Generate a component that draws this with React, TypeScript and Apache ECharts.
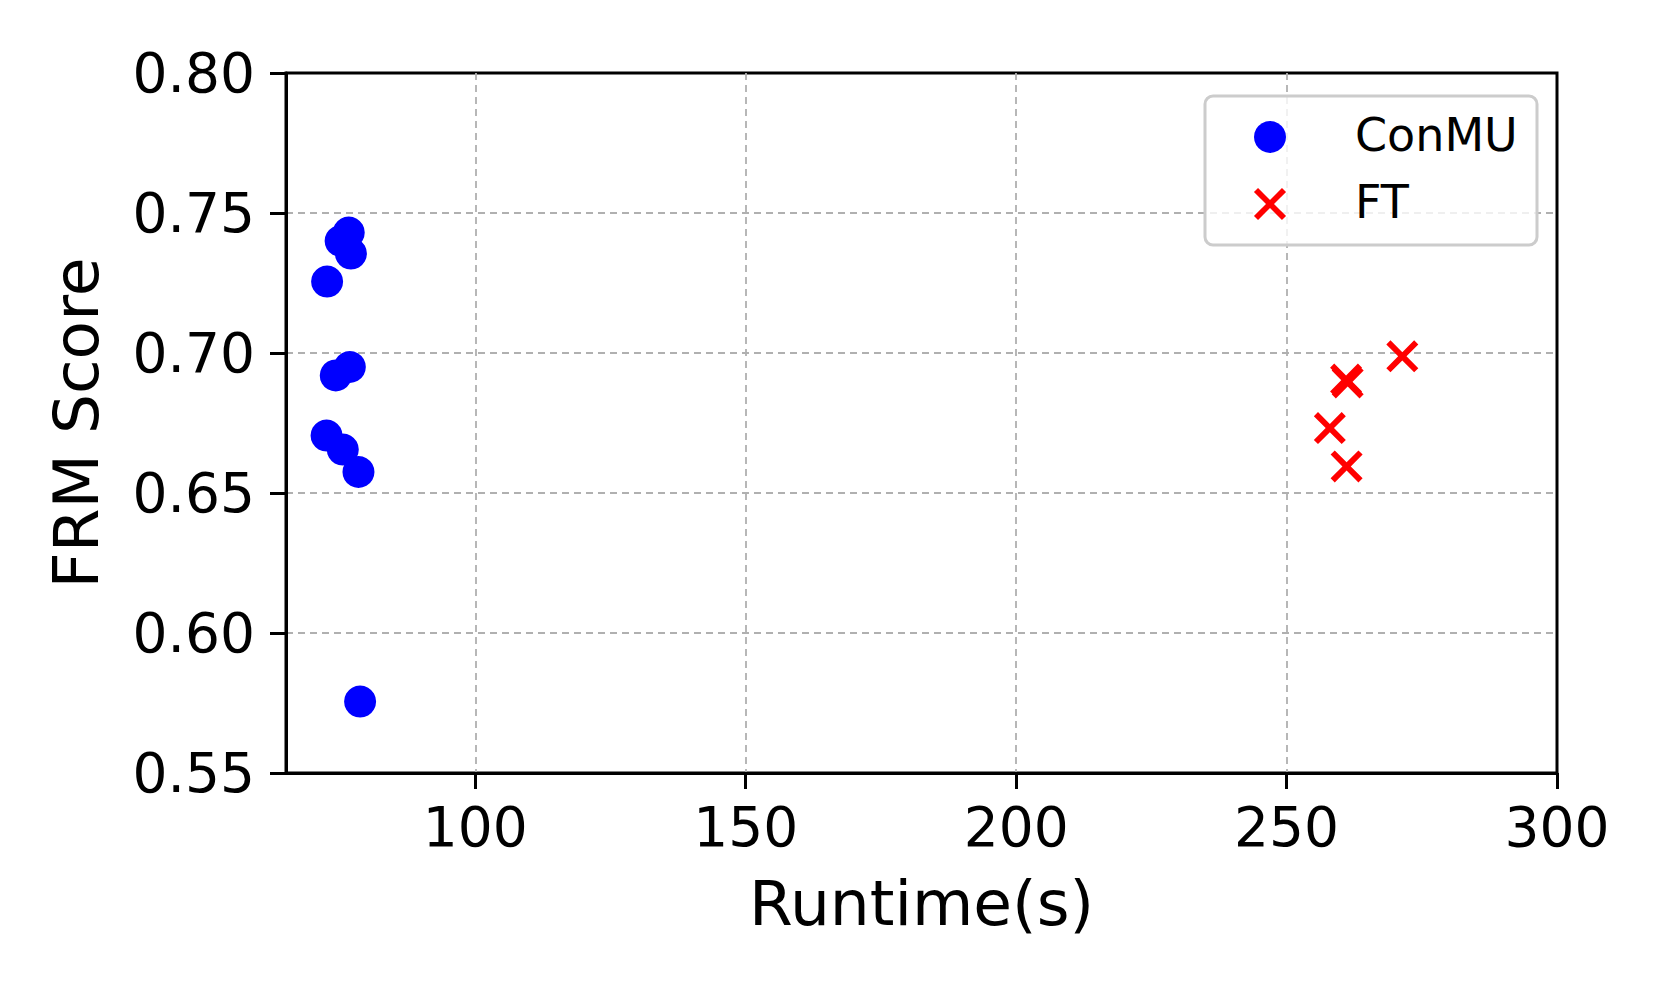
import React, { useEffect, useRef } from "react";
import * as echarts from "echarts";

const conmuRuntime = [76.6, 75.1, 77.0, 72.6, 76.8, 74.2, 72.5, 75.5, 78.4, 78.7];
const conmuScore = [0.743, 0.740, 0.7355, 0.7255, 0.695, 0.692, 0.6705, 0.6655, 0.6575, 0.5755];
const ftRuntime = [271.4, 261.0, 261.3, 258.0, 261.1];
const ftScore = [0.6988, 0.6905, 0.6895, 0.6732, 0.6595];
const xTicks = [100, 150, 200, 250, 300];

const X_PATH =
  "path://M0,13 L13,0 L50,37 L87,0 L100,13 L63,50 L100,87 L87,100 L50,63 L13,100 L0,87 L37,50 Z";

const FONT = "DejaVu Sans";

export default function App() {
  const ref = useRef<HTMLDivElement>(null);
  useEffect(() => {
    if (!ref.current) return;
    const chart = echarts.init(ref.current, null, { renderer: "svg" });
    const conmu = conmuRuntime.map((x, i) => [x, conmuScore[i]]);
    const ft = ftRuntime.map((x, i) => [x, ftScore[i]]);
    const gridStyle = { color: "#b0b0b0", width: 1.8, type: [7, 5] };
    chart.setOption({
      animation: false,
      backgroundColor: "#ffffff",
      grid: {
        left: 286,
        top: 73,
        width: 1271,
        height: 700,
        show: true,
        borderColor: "#000",
        borderWidth: 3,
        backgroundColor: "transparent",
        containLabel: false,
      },
      xAxis: {
        type: "value",
        min: 65,
        max: 300,
        name: "Runtime(s)",
        nameLocation: "middle",
        nameGap: 99,
        nameTextStyle: { fontFamily: FONT, fontSize: 63, color: "#000" },
        axisLine: { show: true, onZero: false, lineStyle: { color: "#000", width: 3 } },
        axisTick: { show: true, inside: false, length: 16, customValues: xTicks, lineStyle: { color: "#000", width: 3 } },
        axisLabel: { customValues: xTicks, fontFamily: FONT, fontSize: 55, color: "#000", margin: 26 },
        splitLine: { show: true, showMinLine: true, showMaxLine: false, lineStyle: gridStyle },
      },
      yAxis: {
        type: "value",
        min: 0.55,
        max: 0.8,
        interval: 0.05,
        name: "FRM Score",
        nameLocation: "middle",
        nameRotate: 90,
        nameGap: 178,
        nameTextStyle: { fontFamily: FONT, fontSize: 63, color: "#000" },
        axisLine: { show: true, onZero: false, lineStyle: { color: "#000", width: 3 } },
        axisTick: { show: true, inside: false, length: 16, lineStyle: { color: "#000", width: 3 } },
        axisLabel: {
          fontFamily: FONT,
          fontSize: 55,
          color: "#000",
          margin: 31,
          showMinLabel: true,
          showMaxLabel: true,
          formatter: (v: number) => v.toFixed(2),
        },
        splitLine: { show: true, showMinLine: false, showMaxLine: false, lineStyle: gridStyle },
      },
      series: [
        {
          name: "ConMU",
          type: "scatter",
          data: conmu,
          symbol: "circle",
          symbolSize: 32,
          itemStyle: { color: "#0000ff", opacity: 1 },
        },
        {
          name: "FT",
          type: "scatter",
          data: ft,
          symbol: X_PATH,
          symbolSize: 32,
          itemStyle: { color: "#ff0000", opacity: 1 },
        },
      ],
      graphic: [
        {
          type: "rect",
          shape: { x: 1205, y: 96, width: 332, height: 149, r: 8 },
          style: { fill: "rgba(255,255,255,0.8)", stroke: "#cccccc", lineWidth: 3 },
          z: 100,
        },
        {
          type: "circle",
          shape: { cx: 1270, cy: 137, r: 16 },
          style: { fill: "#0000ff" },
          z: 101,
        },
        {
          type: "line",
          shape: { x1: 1256, y1: 190, x2: 1284, y2: 218 },
          style: { stroke: "#ff0000", lineWidth: 5.8 },
          z: 101,
        },
        {
          type: "line",
          shape: { x1: 1284, y1: 190, x2: 1256, y2: 218 },
          style: { stroke: "#ff0000", lineWidth: 5.8 },
          z: 101,
        },
        {
          type: "text",
          x: 1355,
          y: 135,
          style: { text: "ConMU", font: `46px "${FONT}"`, fill: "#000", verticalAlign: "middle", align: "left" },
          z: 101,
        },
        {
          type: "text",
          x: 1355,
          y: 202,
          style: { text: "FT", font: `46px "${FONT}"`, fill: "#000", verticalAlign: "middle", align: "left" },
          z: 101,
        },
      ],
    });
    return () => chart.dispose();
  }, []);
  return (
    <div
      ref={ref}
      style={{ position: "absolute", left: 0, top: 0, width: 1661, height: 997, background: "#fff" }}
    />
  );
}
